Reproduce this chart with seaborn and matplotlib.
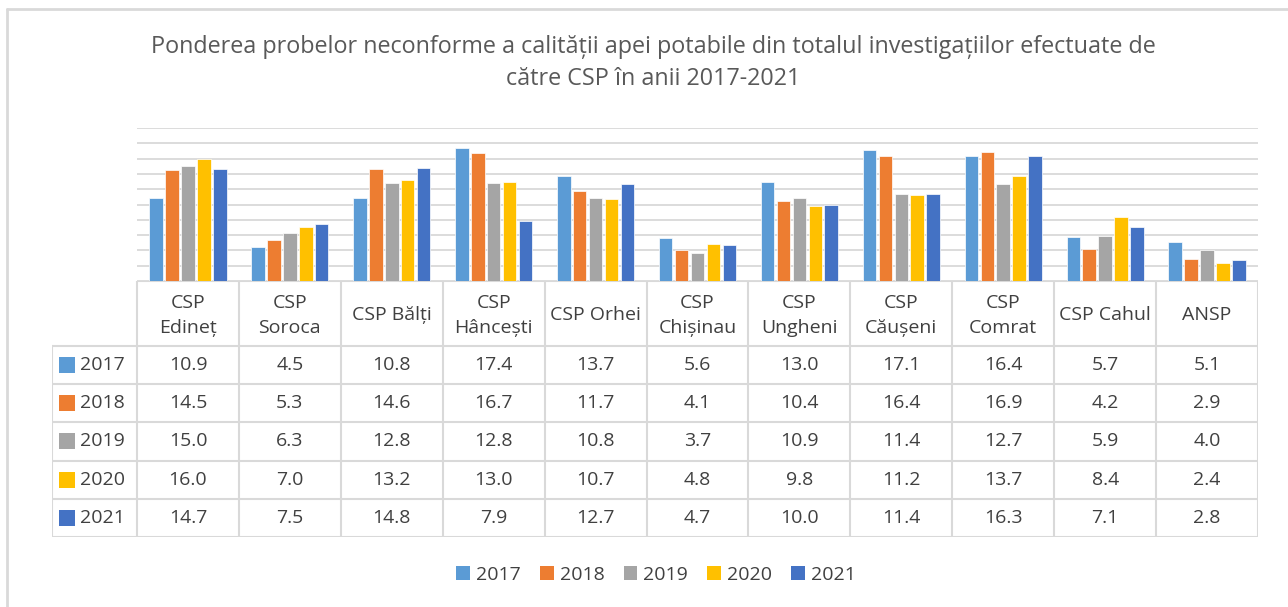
import numpy as np
import pandas as pd
import matplotlib
matplotlib.use("Agg")
import matplotlib.pyplot as plt
import seaborn as sns
from matplotlib.lines import Line2D
from matplotlib.patches import Patch

# data
categories = ["CSP\nEdineț", "CSP\nSoroca", "CSP Bălți", "CSP\nHâncești", "CSP Orhei",
              "CSP\nChișinau", "CSP\nUngheni", "CSP\nCăușeni", "CSP\nComrat", "CSP Cahul", "ANSP"]
years = ["2017", "2018", "2019", "2020", "2021"]
v2017 = [10.9, 4.5, 10.8, 17.4, 13.7, 5.6, 13.0, 17.1, 16.4, 5.7, 5.1]
v2018 = [14.5, 5.3, 14.6, 16.7, 11.7, 4.1, 10.4, 16.4, 16.9, 4.2, 2.9]
v2019 = [15.0, 6.3, 12.8, 12.8, 10.8, 3.7, 10.9, 11.4, 12.7, 5.9, 4.0]
v2020 = [16.0, 7.0, 13.2, 13.0, 10.7, 4.8, 9.8, 11.2, 13.7, 8.4, 2.4]
v2021 = [14.7, 7.5, 14.8, 7.9, 12.7, 4.7, 10.0, 11.4, 16.3, 7.1, 2.8]
colors = ["#5B9BD5", "#ED7D31", "#A5A5A5", "#FFC000", "#4472C4"]

series = [v2017, v2018, v2019, v2020, v2021]
df = pd.DataFrame({
    "cat": categories * len(years),
    "year": [y for y in years for _ in categories],
    "val": [v for s in series for v in s],
})

sns.set_style("white")
plt.rcParams["font.family"] = ["Open Sans", "DejaVu Sans"]
txt = "#404040"
grid = "#D9D9D9"
fs = 14

W, H = 1288, 607
fig = plt.figure(figsize=(W / 100, H / 100), dpi=100)

def fx(px):
    return px / W

def fy(py):
    return 1 - py / H

# bars
ax = fig.add_axes([fx(137), fy(281), fx(1258) - fx(137), fy(128) - fy(281)])
sns.barplot(data=df, x="cat", y="val", hue="year", palette=colors, order=categories,
            hue_order=years, width=0.78, gap=0.15, ax=ax, legend=False, saturation=1,
            edgecolor="white", linewidth=0.5)
ax.set_ylim(0, 20)
ax.set_xlim(-0.5, len(categories) - 0.5)
ax.set_yticks(np.arange(0, 21, 2))
ax.yaxis.grid(True, color=grid, lw=1.3)
ax.set_axisbelow(True)
ax.set_xticks([])
ax.set_yticklabels([])
ax.tick_params(left=False)
ax.set_xlabel("")
ax.set_ylabel("")
sns.despine(ax=ax, left=True, bottom=True)

# data table
cw = (1258 - 137) / len(categories)
lab_w = (137 - 52) / cw
hdr = 1.7
nrow = len(years)
tx = fig.add_axes([fx(52), fy(537), fx(1258) - fx(52), fy(281) - fy(537)])
tx.set_xlim(-0.5 - lab_w, len(categories) - 0.5)
tx.set_ylim(hdr + nrow, 0)
tx.axis("off")
lw = 1.5
tx.plot([-0.5, len(categories) - 0.5], [0, 0], color=grid, lw=lw)
for r in range(nrow + 1):
    tx.plot([-0.5 - lab_w, len(categories) - 0.5], [hdr + r, hdr + r], color=grid, lw=lw)
for k in range(len(categories) + 1):
    tx.plot([k - 0.5, k - 0.5], [0, hdr + nrow], color=grid, lw=lw)
tx.plot([-0.5 - lab_w, -0.5 - lab_w], [hdr, hdr + nrow], color=grid, lw=lw)

for i, c in enumerate(categories):
    tx.text(i, hdr / 2 + 0.05, c, ha="center", va="center", fontsize=fs, color=txt,
            linespacing=1.5)
for r, (y, s, col) in enumerate(zip(years, series, colors)):
    yc = hdr + r + 0.5
    tx.scatter([-0.5 - lab_w + 0.15], [yc], marker="s", s=120, color=col, linewidths=0)
    tx.text(-0.5 - lab_w + 0.27, yc, y, ha="left", va="center", fontsize=fs, color=txt)
    for i, v in enumerate(s):
        tx.text(i, yc, f"{v:.1f}", ha="center", va="center", fontsize=fs, color=txt)

# title
fig.text(fx(653), fy(47), "Ponderea probelor neconforme a calității apei potabile din totalul investigațiilor efectuate de",
         ha="center", va="center", fontsize=16.8, color="#595959")
fig.text(fx(653), fy(79), "către CSP în anii 2017-2021", ha="center", va="center",
         fontsize=16.8, color="#595959")

# legend
handles = [Patch(facecolor=c, edgecolor="none") for c in colors]
fig.legend(handles, years, loc="center", bbox_to_anchor=(fx(656), fy(575)), ncol=5,
           frameon=False, fontsize=fs, handlelength=0.7, handleheight=0.7,
           handletextpad=0.3, columnspacing=1.0, labelcolor=txt)

# chart area border (left and top visible)
fig.add_artist(Line2D([fx(7), fx(7)], [fy(9), 0], color=grid, lw=2))
fig.add_artist(Line2D([fx(7), 1], [fy(9), fy(9)], color=grid, lw=2))

fig.savefig("out.png", dpi=100)
